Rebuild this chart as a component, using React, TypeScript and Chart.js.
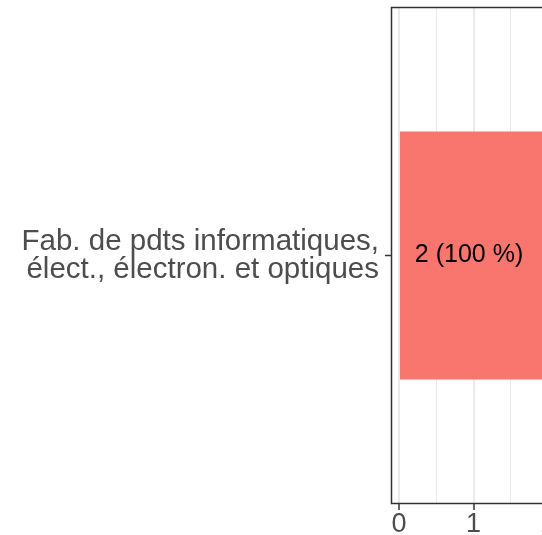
import React, { useEffect, useRef } from "react";
import { Chart, registerables } from "chart.js";

Chart.register(...registerables);

const categories = [["Fab. de pdts informatiques,", "élect., électron. et optiques"]];
const counts = [2];
const percents = [100];
const labelPositions = [0.94];
const majorTicks = [0, 1, 2];
const minorTicks = [0.5, 1.5];
const xMin = -0.1;
const xMax = 2.1;

const FONT = '"Liberation Sans", Arial, Helvetica, sans-serif';
const AXIS_COLOR = "#4d4d4d";
const Y_FONT = 29.5;
const Y_LINE = 0.95;
const X_FONT = 27;
const BAR_FONT = 25;
const TICK_LEN = 6.5;

export default function App() {
  const ref = useRef<HTMLCanvasElement>(null);

  useEffect(() => {
    const canvas = ref.current!;
    const borderPlugin = {
      id: "panelBorder",
      afterDraw(chart: any) {
        const { ctx, chartArea: a } = chart;
        ctx.save();
        ctx.strokeStyle = "#333333";
        ctx.lineWidth = 1.5;
        ctx.strokeRect(a.left, a.top, a.right - a.left, a.bottom - a.top);
        ctx.restore();
      },
    };
    const axisTextPlugin = {
      id: "axisText",
      afterDraw(chart: any) {
        const { ctx, scales, chartArea: a } = chart;
        ctx.save();
        ctx.fillStyle = AXIS_COLOR;
        ctx.font = `${Y_FONT}px ${FONT}`;
        ctx.textAlign = "right";
        ctx.textBaseline = "alphabetic";
        const lh = Y_FONT * Y_LINE;
        const xh = 0.519 * Y_FONT;
        categories.forEach((lines, i) => {
          const yc = scales.y.getPixelForValue(i);
          const first = yc - ((lines.length - 1) * lh) / 2 + xh / 2 + 1;
          lines.forEach((ln, j) => {
            ctx.fillText(ln, a.left - TICK_LEN - 6, first + j * lh);
          });
        });
        ctx.font = `${X_FONT}px ${FONT}`;
        ctx.textAlign = "center";
        majorTicks.forEach((v) => {
          ctx.fillText(String(v), scales.x.getPixelForValue(v), a.bottom + 28.5);
        });
        ctx.restore();
      },
    };
    const labelPlugin = {
      id: "barLabels",
      afterDatasetsDraw(chart: any) {
        const { ctx, scales } = chart;
        ctx.save();
        ctx.font = `${BAR_FONT}px ${FONT}`;
        ctx.fillStyle = "#000000";
        ctx.textAlign = "center";
        ctx.textBaseline = "middle";
        counts.forEach((c, i) => {
          ctx.fillText(
            `${c} (${percents[i]} %)`,
            scales.x.getPixelForValue(labelPositions[i]),
            scales.y.getPixelForValue(i)
          );
        });
        ctx.restore();
      },
    };

    const isMajor = (v: number) => majorTicks.includes(v);

    const chart = new Chart(canvas, {
      type: "bar",
      data: {
        labels: categories.map((l) => l.join(" ")),
        datasets: [
          {
            data: counts,
            backgroundColor: "#F8766D",
            borderWidth: 0,
            barPercentage: 0.5,
            categoryPercentage: 1,
          },
        ],
      },
      options: {
        indexAxis: "y",
        responsive: false,
        animation: false,
        devicePixelRatio: 1,
        layout: { padding: { top: 7.5, right: 44.5, left: 0, bottom: 0 } },
        plugins: { legend: { display: false }, tooltip: { enabled: false } },
        scales: {
          x: {
            type: "linear",
            min: xMin,
            max: xMax,
            afterBuildTicks: (s: any) => {
              s.ticks = [...majorTicks, ...minorTicks]
                .sort((a, b) => a - b)
                .map((v) => ({ value: v }));
            },
            afterFit: (s: any) => {
              s.height = 31.5;
              s.paddingLeft = 0;
              s.paddingRight = 0;
            },
            border: { display: false },
            grid: {
              color: "#ebebeb",
              lineWidth: (c: any) => (isMajor(c.tick?.value) ? 2 : 1),
              tickColor: (c: any) => (isMajor(c.tick?.value) ? "#333333" : "rgba(0,0,0,0)"),
              tickLength: TICK_LEN,
              tickWidth: 1.5,
            },
            ticks: { display: false },
          },
          y: {
            type: "category",
            offset: true,
            afterFit: (s: any) => {
              s.width = 391.5;
              s.paddingTop = 0;
              s.paddingBottom = 0;
            },
            border: { display: false },
            grid: {
              offset: false,
              drawOnChartArea: false,
              color: "rgba(0,0,0,0)",
              tickColor: "#333333",
              tickLength: TICK_LEN,
              tickWidth: 1.5,
            },
            ticks: { display: false },
          },
        },
      },
      plugins: [borderPlugin, labelPlugin, axisTextPlugin],
    } as any);

    return () => chart.destroy();
  }, []);

  return (
    <div
      style={{
        position: "absolute",
        left: 0,
        top: 0,
        width: 542,
        height: 535,
        overflow: "hidden",
        background: "#ffffff",
      }}
    >
      <canvas ref={ref} width={600} height={535} style={{ display: "block", width: 600, height: 535 }} />
    </div>
  );
}
